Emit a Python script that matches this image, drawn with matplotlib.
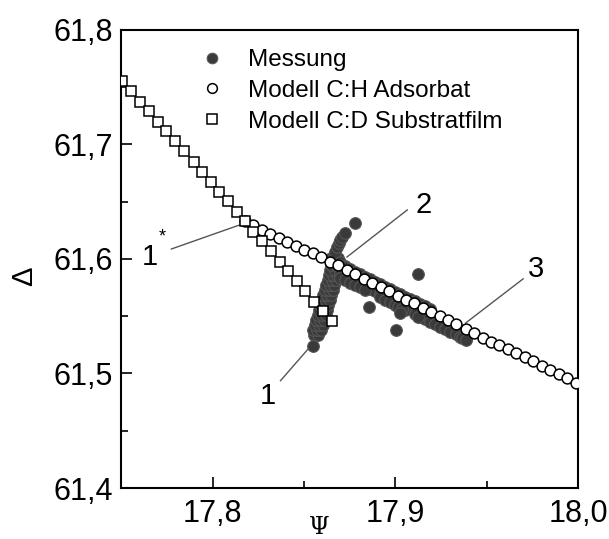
import matplotlib
matplotlib.use("Agg")
import matplotlib.pyplot as plt
from matplotlib.lines import Line2D

plt.rcParams['font.family'] = ['Liberation Sans', 'DejaVu Sans']

# ---- Model C:D Substratfilm (squares) ----
sq_psi = [17.7505, 17.7555, 17.7604, 17.7654, 17.7703, 17.7747, 17.7797, 17.7846,
          17.7896, 17.7940, 17.7989, 17.8033, 17.8082, 17.8132, 17.8176, 17.8220,
          17.8269, 17.8319, 17.8368, 17.8412, 17.8462, 17.8505, 17.8555, 17.8604,
          17.8654]
sq_delta = [61.7555, 61.7467, 61.7371, 61.7293, 61.7197, 61.7118, 61.7031, 61.6943,
            61.6847, 61.6760, 61.6672, 61.6585, 61.6507, 61.6410, 61.6332, 61.6236,
            61.6157, 61.6070, 61.5974, 61.5895, 61.5808, 61.5720, 61.5624, 61.5546,
            61.5459]

# ---- Model C:H Adsorbat (open circles) ----
ci_psi = [17.8176, 17.8220, 17.8269, 17.8313, 17.8363, 17.8407, 17.8456, 17.8500,
          17.8549, 17.8593, 17.8643, 17.8687, 17.8736, 17.8780, 17.8830, 17.8874,
          17.8923, 17.8967, 17.9016, 17.9060, 17.9104, 17.9154, 17.9198, 17.9247,
          17.9291, 17.9335, 17.9385, 17.9429, 17.9478, 17.9522, 17.9566, 17.9615,
          17.9659, 17.9709, 17.9753, 17.9802, 17.9846, 17.9896, 17.9940, 17.9989]
ci_delta = [61.6332, 61.6297, 61.6253, 61.6218, 61.6183, 61.6148, 61.6114, 61.6079,
            61.6052, 61.6017, 61.5974, 61.5948, 61.5904, 61.5869, 61.5825, 61.5790,
            61.5755, 61.5721, 61.5677, 61.5642, 61.5616, 61.5572, 61.5537, 61.5502,
            61.5467, 61.5432, 61.5389, 61.5354, 61.5310, 61.5275, 61.5249, 61.5214,
            61.5179, 61.5144, 61.5109, 61.5066, 61.5031, 61.4996, 61.4961, 61.4917]

# ---- Messung (filled dots) ----
# branch 1 (steep rise)
m1_psi = [17.8555, 17.8577,
          17.8549, 17.8571, 17.8593,
          17.8560, 17.8582, 17.8604,
          17.8566, 17.8588, 17.8610,
          17.8577, 17.8599, 17.8621,
          17.8582, 17.8604, 17.8626,
          17.8588, 17.8610, 17.8632,
          17.8599, 17.8621, 17.8643,
          17.8604, 17.8626, 17.8648,
          17.8615, 17.8637, 17.8659,
          17.8621, 17.8643, 17.8665,
          17.8632, 17.8654, 17.8676,
          17.8637, 17.8659, 17.8681,
          17.8643, 17.8670, 17.8698,
          17.8648, 17.8676, 17.8703]
m1_delta = [61.5336, 61.5336,
            61.5380, 61.5380, 61.5380,
            61.5423, 61.5423, 61.5423,
            61.5467, 61.5467, 61.5467,
            61.5511, 61.5511, 61.5511,
            61.5554, 61.5554, 61.5554,
            61.5598, 61.5598, 61.5598,
            61.5642, 61.5642, 61.5642,
            61.5686, 61.5686, 61.5686,
            61.5729, 61.5729, 61.5729,
            61.5773, 61.5773, 61.5773,
            61.5817, 61.5817, 61.5817,
            61.5860, 61.5860, 61.5860,
            61.5904, 61.5904, 61.5904,
            61.5948, 61.5948, 61.5948]
# branch 2 (upper arm)
m2_psi = [17.8648, 17.8659, 17.8687, 17.8670, 17.8681, 17.8692, 17.8698, 17.8709,
          17.8725, 17.8698, 17.8725, 17.8709]
m2_delta = [61.6009, 61.6009, 61.6009, 61.6061, 61.6105, 61.6140, 61.6166, 61.6192,
            61.6227, 61.5974, 61.5939, 61.5886]
# branch 3 (along the adsorbate model)
m3_psi = [17.8698, 17.8725, 17.8753, 17.8780, 17.8808, 17.8835, 17.8863, 17.8890,
          17.8918, 17.8945, 17.8973, 17.9000, 17.9027, 17.9055, 17.9082, 17.9110,
          17.9137, 17.9165, 17.9192,
          17.8698, 17.8725, 17.8753, 17.8780, 17.8808, 17.8835, 17.8863, 17.8890,
          17.8918, 17.8945, 17.8973, 17.9000, 17.9027, 17.9055, 17.9082, 17.9110,
          17.9137, 17.9165, 17.9192, 17.9220, 17.9247, 17.9275, 17.9302, 17.9330,
          17.9357, 17.9385,
          17.8698, 17.8725, 17.8753, 17.8780, 17.8808, 17.8835, 17.8918, 17.8945,
          17.8973, 17.9000, 17.9027, 17.9055, 17.9110, 17.9137, 17.9165, 17.9192,
          17.9220, 17.9247, 17.9275, 17.9302, 17.9330, 17.9357, 17.9385,
          17.9016, 17.9038, 17.9027, 17.9126, 17.9368, 17.9390]
m3_delta = [61.5951, 61.5929, 61.5908, 61.5886, 61.5865, 61.5843, 61.5822, 61.5801,
            61.5779, 61.5758, 61.5736, 61.5715, 61.5693, 61.5672, 61.5650, 61.5629,
            61.5607, 61.5586, 61.5565,
            61.5870, 61.5848, 61.5827, 61.5805, 61.5784, 61.5762, 61.5741, 61.5720,
            61.5698, 61.5677, 61.5655, 61.5634, 61.5612, 61.5591, 61.5569, 61.5548,
            61.5526, 61.5505, 61.5484, 61.5462, 61.5441, 61.5419, 61.5398, 61.5377,
            61.5355, 61.5334,
            61.5837, 61.5815, 61.5794, 61.5772, 61.5751, 61.5729, 61.5665, 61.5644,
            61.5622, 61.5601, 61.5579, 61.5558, 61.5515, 61.5493, 61.5472, 61.5451,
            61.5429, 61.5408, 61.5386, 61.5365, 61.5344, 61.5322, 61.5301,
            61.5580, 61.5563, 61.5527, 61.5494, 61.5306, 61.5289]
# isolated measurement points
mo_psi = [17.8780, 17.8549, 17.8857, 17.9006, 17.9126]
mo_delta = [61.6314, 61.5240, 61.5581, 61.5380, 61.5869]

# ---- annotations: label, label position, line start, line end ----
ann_labels = ["1", "2", "3", "1"]
ann_text_xy = [(17.8304, 61.480), (17.9154, 61.6472), (17.9770, 61.5913), (17.7654, 61.6017)]
ann_line_from = [(17.8372, 61.4937), (17.9066, 61.6428), (17.9700, 61.5826), (17.7775, 61.6087)]
ann_line_to = [(17.8625, 61.5400), (17.8736, 61.6017), (17.9385, 61.5440), (17.8165, 61.6306)]

xticks = [17.8, 17.9, 18.0]
xticklabels = ["17,8", "17,9", "18,0"]
yticks = [61.4, 61.5, 61.6, 61.7, 61.8]
yticklabels = ["61,4", "61,5", "61,6", "61,7", "61,8"]

fig = plt.figure(figsize=(6.09, 5.39), dpi=100)
ax = fig.add_axes([0.199, 0.0946, 0.750, 0.850])

meas_fc = '#3a3a3a'
meas_ec = '#555555'

# annotation lines (below the data)
for (x0, y0), (x1, y1) in zip(ann_line_from, ann_line_to):
    ax.plot([x0, x1], [y0, y1], color='#555555', lw=1.0, zorder=1)

mpsi = m1_psi + m2_psi + m3_psi + mo_psi
mdel = m1_delta + m2_delta + m3_delta + mo_delta
ax.plot(mpsi, mdel, ls='none', marker='o', ms=8.4, mfc=meas_fc, mec=meas_ec,
        mew=0.8, zorder=2)
ax.plot(ci_psi, ci_delta, ls='none', marker='o', ms=7.8, mfc='white', mec='black',
        mew=1.1, zorder=3)
ax.plot(sq_psi, sq_delta, ls='none', marker='s', ms=7.0, mfc='white', mec='black',
        mew=1.1, zorder=4)

for i, (lab, (tx, ty)) in enumerate(zip(ann_labels, ann_text_xy)):
    ax.text(tx, ty, lab, fontsize=21, ha='center', va='center', zorder=5)
ax.text(17.7722, 61.6195, "*", fontsize=13, ha='center', va='center', zorder=5)

ax.set_xlim(17.75, 18.0)
ax.set_ylim(61.4, 61.8)
ax.set_xticks(xticks)
ax.set_xticklabels(xticklabels)
ax.set_yticks(yticks)
ax.set_yticklabels(yticklabels)
ax.set_xticks([17.85, 17.95], minor=True)
ax.set_yticks([61.45, 61.55, 61.65, 61.75], minor=True)
ax.tick_params(which='both', direction='in', top=False, right=False, width=1.2)
ax.tick_params(which='major', length=8, labelsize=22)
ax.tick_params(which='minor', length=5)
ax.tick_params(axis='x', pad=8)
ax.tick_params(axis='y', pad=6)
for s in ax.spines.values():
    s.set_linewidth(1.5)

ax.text(0.433, -0.086, "Ψ", transform=ax.transAxes, fontsize=17,
        family='DejaVu Serif', ha='center', va='center')
ax.text(-0.212, 0.463, "Δ", transform=ax.transAxes, fontsize=21, rotation=90,
        ha='center', va='center')

handles = [
    Line2D([], [], ls='none', marker='o', ms=7.6, mfc=meas_fc, mec=meas_ec, mew=0.8),
    Line2D([], [], ls='none', marker='o', ms=7.0, mfc='white', mec='black', mew=1.1),
    Line2D([], [], ls='none', marker='s', ms=7.0, mfc='white', mec='black', mew=1.1),
]
labels = ["Messung", "Modell C:H Adsorbat", "Modell C:D Substratfilm"]
ax.legend(handles, labels, loc='upper left', bbox_to_anchor=(0.172, 0.958),
          frameon=False, fontsize=17.5, handlelength=1.0, handletextpad=1.0,
          labelspacing=0.36, borderaxespad=0, borderpad=0)

fig.savefig("out.png", dpi=100)
